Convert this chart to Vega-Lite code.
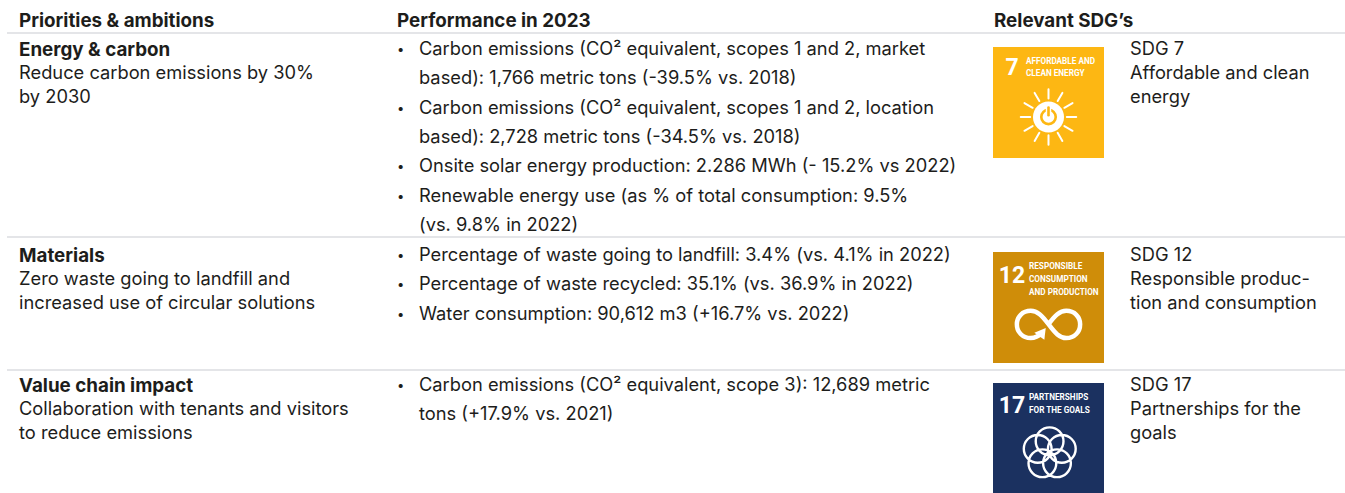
{"$schema":"https://vega.github.io/schema/vega-lite/v6.json","width":1345,"height":493,"autosize":{"type":"fit","contains":"padding"},"padding":0,"background":"#ffffff","view":{"stroke":null},
"config":{"text":{"font":"Inter","fontSize":18.3,"align":"left","baseline":"middle","color":"#1d1d1b"}},
"data":{"values":[
{"kind":"rule","col":0,"colEnd":10,"slot":1},{"kind":"rule","col":0,"colEnd":10,"slot":15},{"kind":"rule","col":0,"colEnd":10,"slot":26},
{"kind":"head","col":1,"slot":0,"label":"Priorities & ambitions"},{"kind":"head","col":2,"slot":0,"label":"Performance in 2023"},{"kind":"head","col":4,"slot":0,"label":"Relevant SDG’s"},
{"kind":"title","col":1,"slot":2,"label":"Energy & carbon"},{"kind":"body","col":1,"slot":5,"label":"Reduce carbon emissions by 30%"},{"kind":"body","col":1,"slot":8,"label":"by 2030"},
{"kind":"title","col":1,"slot":16,"label":"Materials"},{"kind":"body","col":1,"slot":19,"label":"Zero waste going to landfill and"},{"kind":"body","col":1,"slot":23,"label":"increased use of circular solutions"},
{"kind":"title","col":1,"slot":27,"label":"Value chain impact"},{"kind":"body","col":1,"slot":30,"label":"Collaboration with tenants and visitors"},{"kind":"body","col":1,"slot":33,"label":"to reduce emissions"},
{"kind":"bullet","col":2,"slot":2,"label":"•"},{"kind":"body","col":3,"slot":2,"label":"Carbon emissions (CO² equivalent, scopes 1 and 2, market"},{"kind":"body","col":3,"slot":7,"label":"based): 1,766 metric tons (-39.5% vs. 2018)"},
{"kind":"bullet","col":2,"slot":10,"label":"•"},{"kind":"body","col":3,"slot":10,"label":"Carbon emissions (CO² equivalent, scopes 1 and 2, location"},{"kind":"body","col":3,"slot":11,"label":"based): 2,728 metric tons (-34.5% vs. 2018)"},
{"kind":"bullet","col":2,"slot":12,"label":"•"},{"kind":"body","col":3,"slot":12,"label":"Onsite solar energy production: 2.286 MWh (- 15.2% vs 2022)"},
{"kind":"bullet","col":2,"slot":13,"label":"•"},{"kind":"body","col":3,"slot":13,"label":"Renewable energy use (as % of total consumption: 9.5%"},{"kind":"body","col":3,"slot":14,"label":"(vs. 9.8% in 2022)"},
{"kind":"bullet","col":2,"slot":16,"label":"•"},{"kind":"body","col":3,"slot":16,"label":"Percentage of waste going to landfill: 3.4% (vs. 4.1% in 2022)"},
{"kind":"bullet","col":2,"slot":21,"label":"•"},{"kind":"body","col":3,"slot":21,"label":"Percentage of waste recycled: 35.1% (vs. 36.9% in 2022)"},
{"kind":"bullet","col":2,"slot":25,"label":"•"},{"kind":"body","col":3,"slot":25,"label":"Water consumption: 90,612 m3 (+16.7% vs. 2022)"},
{"kind":"bullet","col":2,"slot":27,"label":"•"},{"kind":"body","col":3,"slot":27,"label":"Carbon emissions (CO² equivalent, scope 3): 12,689 metric"},{"kind":"body","col":3,"slot":32,"label":"tons (+17.9% vs. 2021)"},
{"kind":"body","col":9,"slot":2,"label":"SDG 7"},{"kind":"body","col":9,"slot":5,"label":"Affordable and clean"},{"kind":"body","col":9,"slot":8,"label":"energy"},
{"kind":"body","col":9,"slot":16,"label":"SDG 12"},{"kind":"body","col":9,"slot":19,"label":"Responsible produc-"},{"kind":"body","col":9,"slot":23,"label":"tion and consumption"},
{"kind":"body","col":9,"slot":27,"label":"SDG 17"},{"kind":"body","col":9,"slot":30,"label":"Partnerships for the"},{"kind":"body","col":9,"slot":33,"label":"goals"},
{"kind":"tile","sdg":"SDG 7","col":8,"slot":9},{"kind":"tile","sdg":"SDG 12","col":8,"slot":24},{"kind":"tile","sdg":"SDG 17","col":8,"slot":34},
{"kind":"num","col":5,"slot":4,"label":"7"},{"kind":"num","col":5,"slot":18,"label":"12"},{"kind":"num","col":5,"slot":29,"label":"17"},
{"kind":"tag","col":6,"slot":3,"label":"AFFORDABLE AND"},{"kind":"tag","col":6,"slot":6,"label":"CLEAN ENERGY"},
{"kind":"tag","col":7,"slot":17,"label":"RESPONSIBLE"},{"kind":"tag","col":7,"slot":20,"label":"CONSUMPTION"},{"kind":"tag","col":7,"slot":22,"label":"AND PRODUCTION"},
{"kind":"tag","col":7,"slot":28,"label":"PARTNERSHIPS"},{"kind":"tag","col":7,"slot":31,"label":"FOR THE GOALS"}
]},
"encoding":{
"x":{"field":"col","type":"quantitative","axis":null,"scale":{"domain":[0,1,2,3,4,5,6,7,8,9,10],"range":[7,19,397,419,994,1012,1026,1029,1048.5,1130,1345]}},
"y":{"field":"slot","type":"quantitative","axis":null,"scale":{"domain":[0,1,2,3,4,5,6,7,8,9,10,11,12,13,14,15,16,17,18,19,20,21,22,23,24,25,26,27,28,29,30,31,32,33,34],"range":[20,33,49,62,68,73,74,78,97,102.5,108,137,166,196,225,237,255,267,276,279,280,284,293,303,307.5,314,370,385,398,406,409,411,414,433,438.5]}}
},
"layer":[
{"transform":[{"filter":"datum.kind==='rule'"}],"mark":{"type":"rule","color":"#c9ccd1","strokeWidth":1.2},"encoding":{"x2":{"field":"colEnd"}}},
{"transform":[{"filter":"datum.kind==='tile'"}],"mark":{"type":"point","shape":"square","filled":true,"opacity":1,"size":12321,"strokeWidth":0},"encoding":{"color":{"field":"sdg","type":"nominal","legend":null,"scale":{"domain":["SDG 7","SDG 12","SDG 17"],"range":["#fdb713","#cf8d09","#1b3160"]}}}},
{"transform":[{"filter":"datum.sdg==='SDG 7'"}],"mark":{"type":"point","filled":false,"opacity":1,"size":12321,"stroke":"#ffffff","strokeWidth":2,"strokeCap":"round","shape":"M0,-.07L0,-.24M.165,-.026L.25,-.173M.286,.095L.433,.01M.33,.26L.5,.26M.286,.425L.433,.51M.165,.546L.25,.693M0,.59L0,.76M-.165,.546L-.25,.693M-.286,.425L-.433,.51M-.33,.26L-.5,.26M-.286,.095L-.433,.01M-.165,-.026L-.25,-.173"}},
{"transform":[{"filter":"datum.sdg==='SDG 7'"}],"mark":{"type":"point","filled":true,"opacity":1,"size":12321,"color":"#ffffff","strokeWidth":0,"shape":"M.28,.26C.28,.4146 .1546,.54 0,.54C-.1546,.54 -.28,.4146 -.28,.26C-.28,.1054 -.1546,-.02 0,-.02C.1546,-.02 .28,.1054 .28,.26Z"}},
{"transform":[{"filter":"datum.sdg==='SDG 7'"}],"mark":{"type":"point","filled":false,"opacity":1,"size":12321,"stroke":"#fdb713","strokeWidth":2.6,"shape":"M.13,.26C.13,.3318 .0718,.39 0,.39C-.0718,.39 -.13,.3318 -.13,.26C-.13,.1882 -.0718,.13 0,.13C.0718,.13 .13,.1882 .13,.26Z"}},
{"transform":[{"filter":"datum.sdg==='SDG 7'"}],"mark":{"type":"point","filled":false,"opacity":1,"size":12321,"stroke":"#ffffff","strokeWidth":5.5,"shape":"M0,.08L0,.24"}},
{"transform":[{"filter":"datum.sdg==='SDG 7'"}],"mark":{"type":"point","filled":false,"opacity":1,"size":12321,"stroke":"#fdb713","strokeWidth":2.6,"strokeCap":"round","shape":"M0,.09L0,.23"}},
{"transform":[{"filter":"datum.sdg==='SDG 12'"}],"mark":{"type":"point","filled":false,"opacity":1,"size":12321,"stroke":"#ffffff","strokeWidth":4.5,"shape":"M-.1,.45C-.17,.51 -.24,.55 -.32,.55C-.47,.55 -.57,.44 -.57,.3C-.57,.17 -.47,.06 -.32,.06C-.2,.06 -.12,.14 0,.3C.12,.46 .2,.55 .32,.55C.47,.55 .57,.44 .57,.3C.57,.17 .47,.06 .32,.06C.2,.06 .12,.14 0,.3"}},
{"transform":[{"filter":"datum.sdg==='SDG 12'"}],"mark":{"type":"point","filled":true,"opacity":1,"size":12321,"color":"#ffffff","strokeWidth":0,"shape":"M-.255,.453L-.05,.37L-.075,.58Z"}},
{"transform":[{"filter":"datum.sdg==='SDG 17'"}],"mark":{"type":"point","filled":false,"opacity":1,"size":12321,"stroke":"#ffffff","strokeWidth":2.4,"shape":"M.27,.05C.27,.188 .158,.3 .02,.3C-.118,.3 -.23,.188 -.23,.05C-.23,-.088 -.118,-.2 .02,-.2C.158,-.2 .27,-.088 .27,.05ZM.49,.186C.49,.324 .378,.436 .24,.436C.102,.436 -.01,.324 -.01,.186C-.01,.048 .102,-.064 .24,-.064C.378,-.064 .49,.048 .49,.186ZM.403,.446C.403,.584 .291,.696 .153,.696C.015,.696 -.097,.584 -.097,.446C-.097,.308 .015,.196 .153,.196C.291,.196 .403,.308 .403,.446ZM.14,.446C.14,.584 .028,.696 -.11,.696C-.248,.696 -.36,.584 -.36,.446C-.36,.308 -.248,.196 -.11,.196C.028,.196 .14,.308 .14,.446ZM.055,.186C.055,.324 -.057,.436 -.195,.436C-.333,.436 -.445,.324 -.445,.186C-.445,.048 -.333,-.064 -.195,-.064C-.057,-.064 .055,.048 .055,.186Z"}},
{"transform":[{"filter":"datum.kind==='head'||datum.kind==='title'"}],"mark":{"type":"text","fontWeight":"bold","fontSize":18.8,"dy":1},"encoding":{"text":{"field":"label"}}},
{"transform":[{"filter":"datum.kind==='body'"}],"mark":{"type":"text","dy":1},"encoding":{"text":{"field":"label"}}},
{"transform":[{"filter":"datum.kind==='bullet'"}],"mark":{"type":"text","fontSize":13,"dy":1},"encoding":{"text":{"field":"label"}}},
{"transform":[{"filter":"datum.kind==='num'"}],"mark":{"type":"text","font":"Roboto","fontWeight":"bold","fontSize":23,"align":"center","color":"#ffffff"},"encoding":{"text":{"field":"label"}}},
{"transform":[{"filter":"datum.kind==='tag'"}],"mark":{"type":"text","font":"Roboto","fontWeight":"bold","fontSize":8.2,"color":"#ffffff"},"encoding":{"text":{"field":"label"}}}
]}
